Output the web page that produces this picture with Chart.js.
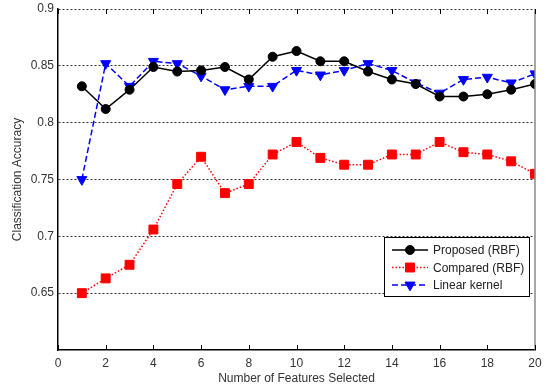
<!DOCTYPE html>
<html>
<head>
<meta charset="utf-8">
<script src="https://cdn.jsdelivr.net/npm/chart.js@4/dist/chart.umd.min.js"></script>
<style>
  html, body { margin: 0; padding: 0; background: #fff; }
  #wrap { width: 546px; height: 389px; }
</style>
</head>
<body>
<div id="wrap"><canvas id="c" width="546" height="389"></canvas></div>
<script>
// Number of features selected
const features = [1,2,3,4,5,6,7,8,9,10,11,12,13,14,15,16,17,18,19,20];
// Classification accuracy per method
const proposedRBF = [0.832,0.812,0.829,0.849,0.845,0.846,0.849,0.838,0.858,0.863,0.854,0.854,0.845,0.838,0.834,0.823,0.823,0.825,0.829,0.834];
const comparedRBF = [0.650,0.663,0.675,0.706,0.746,0.770,0.738,0.746,0.772,0.783,0.769,0.763,0.763,0.772,0.772,0.783,0.774,0.772,0.766,0.755];
const linearKernel = [0.750,0.852,0.832,0.854,0.852,0.841,0.829,0.832,0.832,0.846,0.842,0.846,0.852,0.846,0.835,0.826,0.838,0.840,0.835,0.843];
// Axis ticks
const xTicks = [0,2,4,6,8,10,12,14,16,18,20];
const yTicks = [0.65,0.7,0.75,0.8,0.85,0.9];

const FONT = 'Arial, "Liberation Sans", sans-serif';

function pts(ys) { return features.map((x, i) => ({ x: x, y: ys[i] })); }

const datasets = [
  { label: 'Proposed (RBF)', data: pts(proposedRBF), borderColor: '#000', backgroundColor: '#000',
    borderWidth: 1.5, pointStyle: 'circle', pointRadius: 4.5, borderDash: [] },
  { label: 'Compared (RBF)', data: pts(comparedRBF), borderColor: '#ff0000', backgroundColor: '#ff0000',
    borderWidth: 1.5, pointStyle: 'rect', pointRadius: 6.3, borderDash: [1.5, 2] },
  { label: 'Linear kernel', data: pts(linearKernel), borderColor: '#0000ff', backgroundColor: '#0000ff',
    borderWidth: 1.5, pointStyle: 'triangle', pointRotation: 180, pointRadius: 5.8, borderDash: [6, 3] }
];
datasets.forEach(d => { d.pointBorderWidth = 1; d.tension = 0; d.fill = false; });

// Inward tick marks, right frame edge and in-plot legend
const framePlugin = {
  id: 'frame',
  afterDatasetsDraw(chart) {
    const ctx = chart.ctx, a = chart.chartArea, xs = chart.scales.x;
    ctx.save();
    // right edge
    ctx.strokeStyle = '#8a8a8a';
    ctx.lineWidth = 1.5;
    ctx.beginPath();
    ctx.moveTo(a.right, a.top); ctx.lineTo(a.right, a.bottom);
    ctx.stroke();
    // x tick marks, pointing inward at top and bottom
    ctx.strokeStyle = '#000';
    ctx.lineWidth = 1;
    xTicks.forEach(v => {
      const px = Math.round(xs.getPixelForValue(v)) + 0.5;
      ctx.beginPath();
      ctx.moveTo(px, a.bottom); ctx.lineTo(px, a.bottom - 5);
      ctx.moveTo(px, a.top); ctx.lineTo(px, a.top + 5);
      ctx.stroke();
    });
    // legend box
    const bx = 384, by = 237, bw = 145, bh = 59;
    ctx.fillStyle = '#fff';
    ctx.fillRect(bx, by, bw, bh);
    ctx.strokeStyle = '#000';
    ctx.lineWidth = 1;
    ctx.strokeRect(bx + 0.5, by + 0.5, bw, bh);
    ctx.font = '12px ' + FONT;
    ctx.textBaseline = 'middle';
    chart.data.datasets.forEach((d, i) => {
      const y = by + 13 + i * 17.5;
      ctx.save();
      ctx.strokeStyle = d.borderColor;
      ctx.lineWidth = d.borderWidth;
      ctx.setLineDash(d.borderDash || []);
      ctx.beginPath();
      ctx.moveTo(bx + 8, y); ctx.lineTo(bx + 44, y);
      ctx.stroke();
      ctx.restore();
      ctx.fillStyle = d.backgroundColor;
      ctx.strokeStyle = d.borderColor;
      Chart.helpers.drawPoint(ctx, { pointStyle: d.pointStyle, rotation: d.pointRotation || 0,
        radius: d.pointRadius, borderWidth: 1 }, bx + 26, y);
      ctx.fillStyle = '#222';
      ctx.textAlign = 'left';
      ctx.fillText(d.label, bx + 49, y + 1);
    });
    ctx.restore();
  }
};

new Chart(document.getElementById('c'), {
  type: 'line',
  data: { datasets: datasets },
  plugins: [framePlugin],
  options: {
    responsive: false,
    animation: false,
    devicePixelRatio: 1,
    layout: { padding: { left: 0, top: 9, right: 11, bottom: 0 } },
    plugins: { legend: { display: false }, tooltip: { enabled: false } },
    scales: {
      x: {
        type: 'linear', min: 0, max: 20,
        afterBuildTicks(s) { s.ticks = xTicks.map(v => ({ value: v })); },
        afterFit(s) { s.height = 39; s.paddingLeft = 0; s.paddingRight = 0; },
        grid: { drawOnChartArea: false, drawTicks: false },
        border: { display: true, color: '#000', width: 1.5 },
        ticks: { color: '#333', padding: 6, font: { family: FONT, size: 12 }, maxRotation: 0 },
        title: { display: true, text: 'Number of Features Selected', color: '#333',
          font: { family: FONT, size: 12 }, padding: { top: 0, bottom: 3 } }
      },
      y: {
        type: 'linear', min: 0.6, max: 0.9,
        afterBuildTicks(s) { s.ticks = yTicks.map(v => ({ value: v })); },
        afterFit(s) { s.width = 58; s.paddingTop = 0; s.paddingBottom = 0; },
        grid: { drawTicks: false, color: '#333', lineWidth: 1 },
        border: { display: true, color: '#000', width: 1.5, dash: [2, 2] },
        ticks: { color: '#333', padding: 4, font: { family: FONT, size: 12 },
          callback: v => String(Math.round(v * 100) / 100) },
        title: { display: true, text: 'Classification Accuracy', color: '#333',
          font: { family: FONT, size: 12 }, padding: { top: 10, bottom: 0 } }
      }
    }
  }
});
</script>
</body>
</html>
